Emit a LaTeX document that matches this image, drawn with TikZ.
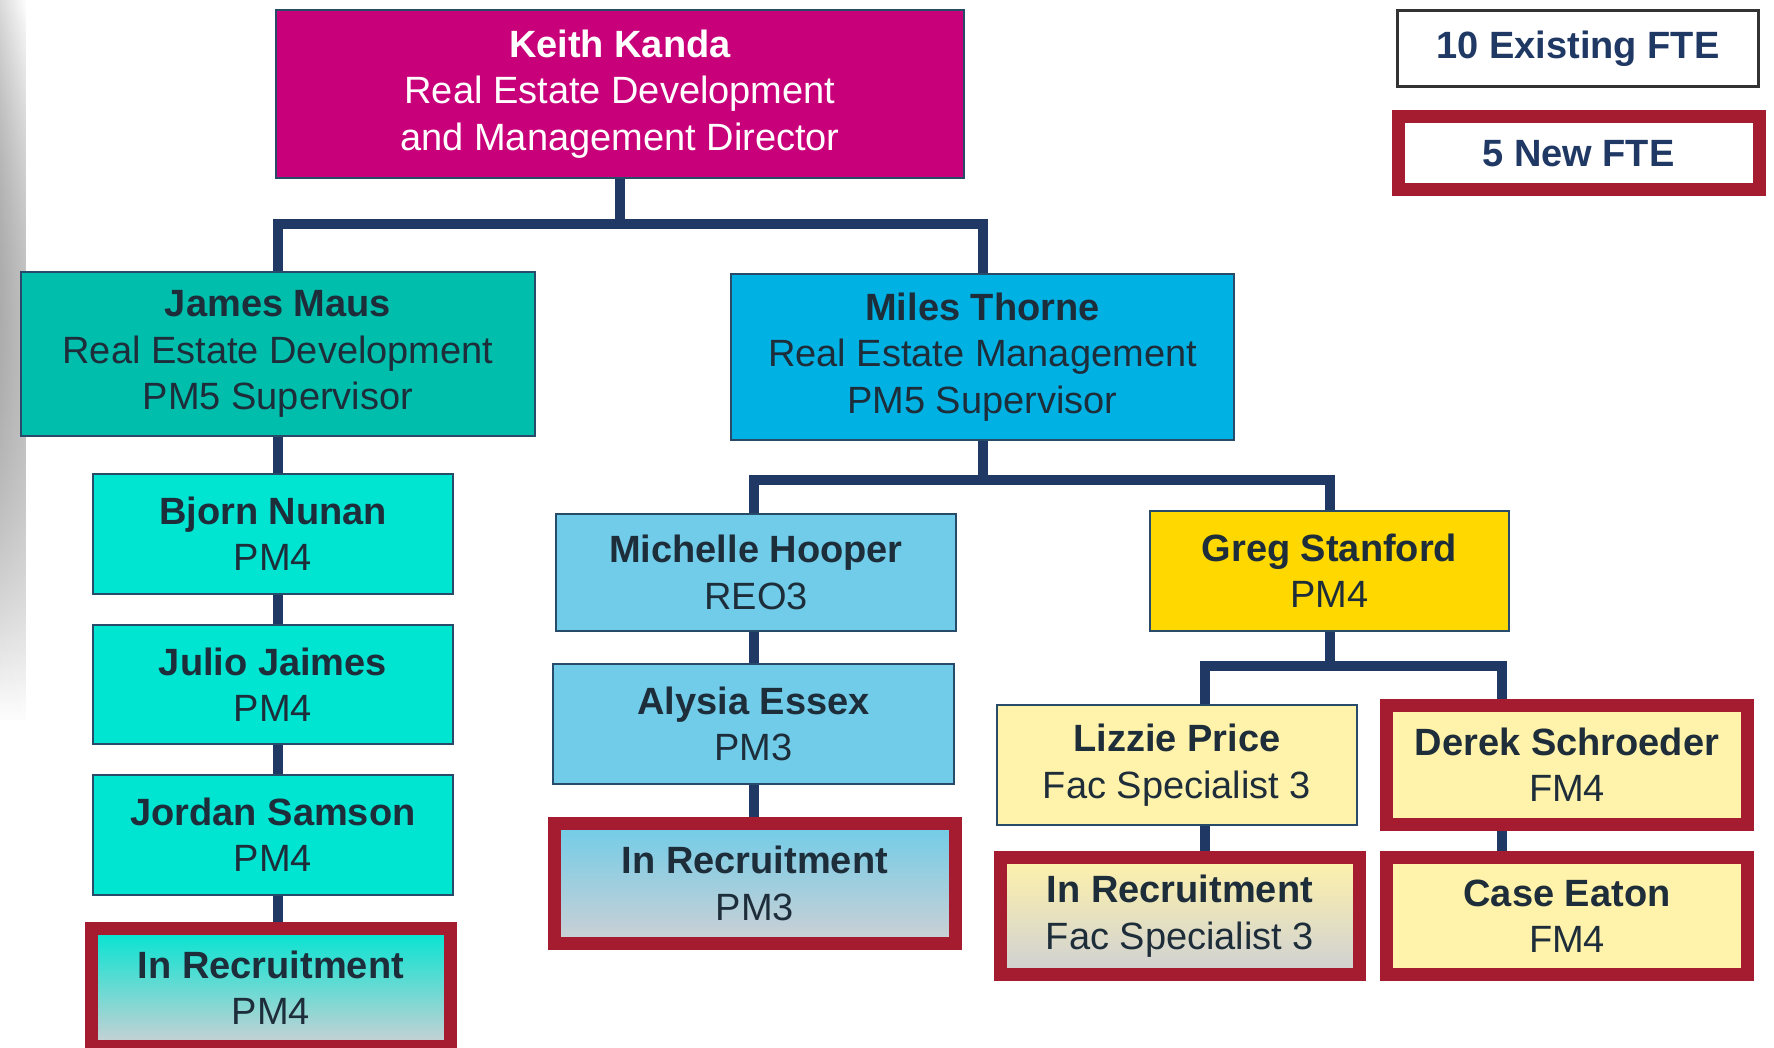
\documentclass[tikz,border=0pt]{standalone}
\usepackage{fontspec}
\setmainfont{Liberation Sans}
\usetikzlibrary{backgrounds,fadings}
\definecolor{keithc}{RGB}{200,0,122}
\definecolor{jamesc}{RGB}{0,190,172}
\definecolor{milesc}{RGB}{0,178,228}
\definecolor{turq}{RGB}{0,228,210}
\definecolor{lblue}{RGB}{112,204,232}
\definecolor{gold}{RGB}{255,216,0}
\definecolor{lyellow}{RGB}{255,242,170}
\definecolor{recgrey}{RGB}{206,208,212}
\definecolor{newred}{RGB}{165,28,48}
\definecolor{navy}{RGB}{31,56,100}
\definecolor{txt}{RGB}{30,45,58}
\definecolor{bordc}{RGB}{40,75,105}
\tikzfading[name=fadedown, top color=transparent!0, middle color=transparent!15, bottom color=transparent!100]
\tikzset{
  box/.style={draw=bordc, line width=1pt, align=center, text=txt, inner sep=0pt,
    font=\fontsize{19}{23.2}\selectfont},
  newbox/.style={box, draw=newred, line width=6.5pt},
  conn/.style={draw=navy, line width=5pt, line join=miter, line cap=rect},
}
\begin{document}
\begin{tikzpicture}[x=0.5pt,y=-0.5pt]
\useasboundingbox (0,0) rectangle (1774,1048);

% top
\node[box, fill=keithc, text=white, minimum width=344pt, minimum height=84pt] (keith) at (620,94)
  {\textbf{Keith Kanda}\\Real Estate Development\\and Management Director};
\node[box, fill=jamesc, minimum width=257pt, minimum height=82pt] (james) at (278,354)
  {\textbf{James Maus}\\Real Estate Development\\PM5 Supervisor};
\node[box, fill=milesc, minimum width=251.5pt, minimum height=83pt] (miles) at (982.5,357)
  {\textbf{Miles Thorne}\\Real Estate Management\\PM5 Supervisor};

% left column
\node[box, fill=turq, minimum width=180pt, minimum height=60pt] (bjorn) at (273,534)
  {\textbf{Bjorn Nunan}\\PM4};
\node[box, fill=turq, minimum width=180pt, minimum height=59.5pt] (julio) at (273,684.5)
  {\textbf{Julio Jaimes}\\PM4};
\node[box, fill=turq, minimum width=180pt, minimum height=60pt] (jordan) at (273,835)
  {\textbf{Jordan Samson}\\PM4};
\node[newbox, top color=turq, bottom color=recgrey, minimum width=179.5pt, minimum height=59pt] (recA) at (271,987.5)
  {\textbf{In Recruitment}\\PM4};

% middle column
\node[box, fill=lblue, minimum width=200pt, minimum height=58.5pt] (michelle) at (756,572.5)
  {\textbf{Michelle Hooper}\\REO3};
\node[box, fill=lblue, minimum width=200.5pt, minimum height=60pt] (alysia) at (753.5,724)
  {\textbf{Alysia Essex}\\PM3};
\node[newbox, top color=lblue, bottom color=recgrey, minimum width=200.5pt, minimum height=60pt] (recB) at (755,883.5)
  {\textbf{In Recruitment}\\PM3};

% right part
\node[box, fill=gold, minimum width=179.5pt, minimum height=60pt] (greg) at (1329.5,571)
  {\textbf{Greg Stanford}\\PM4};
\node[box, fill=lyellow, minimum width=180pt, minimum height=60pt] (lizzie) at (1177,765)
  {\textbf{Lizzie Price}\\Fac Specialist 3};
\node[newbox, fill=lyellow, minimum width=180.5pt, minimum height=59.5pt] (derek) at (1567,765)
  {\textbf{Derek Schroeder}\\FM4};
\node[newbox, top color=lyellow, bottom color=recgrey, minimum width=179.5pt, minimum height=58.5pt] (recC) at (1180,916)
  {\textbf{In Recruitment}\\Fac Specialist 3};
\node[newbox, fill=lyellow, minimum width=180.5pt, minimum height=58.5pt] (case) at (1567,916)
  {\textbf{Case Eaton}\\FM4};

% legend
\node[box, fill=white, draw=black!80, line width=1.5pt, text=navy, minimum width=180.5pt, minimum height=38pt] (leg1) at (1578,48.5)
  {\textbf{10 Existing FTE}};
\node[newbox, fill=white, text=navy, minimum width=180.5pt, minimum height=36.5pt] (leg2) at (1578.5,153.5)
  {\textbf{5 New FTE}};

% connector anchors
\coordinate (hubK) at (620,224);
\coordinate (hubM) at (982.5,480);
\coordinate (hubG) at (1329.5,666);
\coordinate (xJ) at (278,0);
\coordinate (xMi) at (754,0);
\coordinate (xL) at (1205,0);
\coordinate (xD) at (1502,0);
\coordinate (hubGR) at (1502,666);

\begin{scope}[on background layer]
\fill[white] (0,0) rectangle (1774,1048);
\fill[left color=black!14, right color=white, path fading=fadedown] (0,0) rectangle (26,720);
\draw[conn] (keith.south) -- (hubK);
\draw[conn] (james.north) |- (miles.north |- hubK) -- (miles.north);
\draw[conn] (miles.south) -- (hubM);
\draw[conn] (michelle.north -| xMi) |- (greg.north |- hubM) -- (greg.north);
\draw[conn] (greg.south) -- (hubG);
\draw[conn] (lizzie.north -| xL) |- (hubGR) -- (derek.north -| xD);
\draw[conn] (james.south -| xJ) -- (bjorn.north -| xJ);
\draw[conn] (bjorn.south -| xJ) -- (julio.north -| xJ);
\draw[conn] (julio.south -| xJ) -- (jordan.north -| xJ);
\draw[conn] (jordan.south -| xJ) -- (recA.north -| xJ);
\draw[conn] (michelle.south -| xMi) -- (alysia.north -| xMi);
\draw[conn] (alysia.south -| xMi) -- (recB.north -| xMi);
\draw[conn] (lizzie.south -| xL) -- (recC.north -| xL);
\draw[conn] (derek.south -| xD) -- (case.north -| xD);
\end{scope}
\end{tikzpicture}
\end{document}
